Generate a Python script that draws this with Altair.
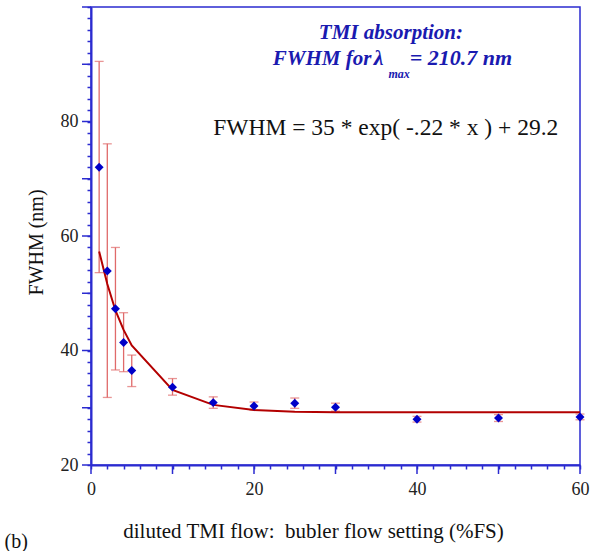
import altair as alt
import pandas as pd

# data
flow = [1, 2, 3, 4, 5, 10, 15, 20, 25, 30, 40, 50, 60]
fwhm = [72.0, 53.9, 47.3, 41.4, 36.5, 33.6, 30.9, 30.3, 30.8, 30.1, 28.0, 28.2, 28.4]
err_lo = [53.6, 31.8, 36.6, 36.3, 33.7, 32.2, 29.9, 29.6, 29.9, 29.4, 27.5, 27.6, 27.9]
err_hi = [90.5, 76.1, 58.0, 46.6, 39.2, 35.1, 31.9, 31.0, 31.7, 30.8, 28.5, 28.8, 28.9]
fit = [57.3, 51.6, 47.0, 43.6, 40.9, 33.1, 30.5, 29.6, 29.3, 29.2, 29.2, 29.2, 29.2]

x_minor = list(range(0, 61, 2))
y_minor = list(range(20, 101, 2))
x_major = list(range(0, 61, 10))
y_major = list(range(20, 101, 10))

df = pd.DataFrame({"x": flow, "y": fwhm, "lo": err_lo, "hi": err_hi, "fit": fit})

AXIS_BLUE = "#2b2bd0"
SERIF = "Liberation Serif"
W, H = 489, 458
MAJOR = 9

xs = alt.Scale(domain=[0, 60], nice=False, zero=False)
ys = alt.Scale(domain=[20, 100], nice=False, zero=False)

x_axis = alt.Axis(
    values=x_minor,
    labelExpr="datum.value % 20 === 0 ? datum.label : ''",
    tickSize=4, tickColor=AXIS_BLUE, tickWidth=1.5,
    domainColor=AXIS_BLUE, domainWidth=2,
    labelFont=SERIF, labelFontSize=18, labelColor="#222222",
    labelPadding=11, labelFlush=False, labelOverlap=False,
    grid=False,
    title="diluted TMI flow:\u00a0 bubler flow setting (%FS)",
    titleFont=SERIF, titleFontSize=21, titleFontWeight="normal", titleColor="#111111",
    titleX=222, titleY=72, titleAnchor="middle", titleBaseline="alphabetic",
)
y_axis = alt.Axis(
    values=y_minor,
    labelExpr="(datum.value % 20 === 0 && datum.value < 100) ? datum.label : ''",
    tickSize=4, tickColor=AXIS_BLUE, tickWidth=1.5,
    domainColor=AXIS_BLUE, domainWidth=2,
    labelFont=SERIF, labelFontSize=18, labelColor="#222222",
    labelPadding=9, labelFlush=False, labelOverlap=False,
    grid=False,
    title="FWHM (nm)",
    titleFont=SERIF, titleFontSize=20, titleFontWeight="normal", titleColor="#111111",
    titleX=-45, titleY=235, titleAnchor="middle",
)


def X(field):
    return alt.X(field, scale=xs, axis=x_axis)


def Y(field):
    return alt.Y(field, scale=ys, axis=y_axis)


base = alt.Chart(df)

ERR = "#e06a6a"
errs = base.mark_rule(color=ERR, strokeWidth=1.3).encode(x=X("x:Q"), y=Y("lo:Q"), y2="hi:Q")
cap_lo = base.mark_tick(orient="horizontal", size=9, thickness=1.3, color=ERR).encode(x=X("x:Q"), y=Y("lo:Q"))
cap_hi = base.mark_tick(orient="horizontal", size=9, thickness=1.3, color=ERR).encode(x=X("x:Q"), y=Y("hi:Q"))
fit_line = base.mark_line(color="#b30000", strokeWidth=2).encode(x=X("x:Q"), y=Y("fit:Q"))
points = base.mark_point(shape="diamond", filled=True, size=80, color="#0000c8", opacity=1).encode(
    x=X("x:Q"), y=Y("y:Q")
)

# longer ticks at every 10 units (drawn through the axis scales)
xt = alt.Chart(pd.DataFrame({"v": x_major})).mark_rule(color=AXIS_BLUE, strokeWidth=1.5).encode(
    x=X("v:Q"), y=alt.value(H), y2=alt.value(H + MAJOR)
)
yt = alt.Chart(pd.DataFrame({"v": y_major})).mark_rule(color=AXIS_BLUE, strokeWidth=1.5).encode(
    y=Y("v:Q"), x=alt.value(-MAJOR), x2=alt.value(0)
)


# annotations (placed in data coordinates)
def label(text, tx, ty, size, align="left", style="normal", weight="normal", color="#000000"):
    d = pd.DataFrame({"t": [text], "tx": [tx], "ty": [ty]})
    return alt.Chart(d).mark_text(
        font=SERIF, fontSize=size, align=align, baseline="alphabetic",
        fontStyle=style, fontWeight=weight, color=color,
    ).encode(x=X("tx:Q"), y=Y("ty:Q"), text="t:N")


TITLE_BLUE = "#1a1ab0"
t1 = label("TMI absorption:", 36.8, 94.4, 21, "center", "italic", "bold", TITLE_BLUE)
t2 = label("FWHM for", 22.3, 89.9, 21, "left", "italic", "bold", TITLE_BLUE)
t2b = label("λ", 34.7, 89.9, 22, "left", "italic", "bold", TITLE_BLUE)
t3 = label("max", 36.5, 87.6, 12, "left", "italic", "bold", TITLE_BLUE)
t4 = label("= 210.7 nm", 39.1, 89.9, 22, "left", "italic", "bold", TITLE_BLUE)
eq = label("FWHM = 35 * exp( -.22 * x ) + 29.2", 15.0, 77.6, 23.5, "left", color="#111111")
tb = label("(b)", -10.6, 5.5, 20, "left", color="#111111")

chart = alt.layer(
    xt, yt, errs, cap_lo, cap_hi, fit_line, points, t1, t2, t2b, t3, t4, eq, tb
).properties(
    width=W, height=H,
    autosize=alt.AutoSizeParams(type="none"),
    padding={"left": 91, "top": 7, "right": 17, "bottom": 86},
    background="white",
).configure_view(
    stroke=AXIS_BLUE, strokeWidth=1.5
)

chart.save("out.html", embed_options={"renderer": "svg", "actions": False})
